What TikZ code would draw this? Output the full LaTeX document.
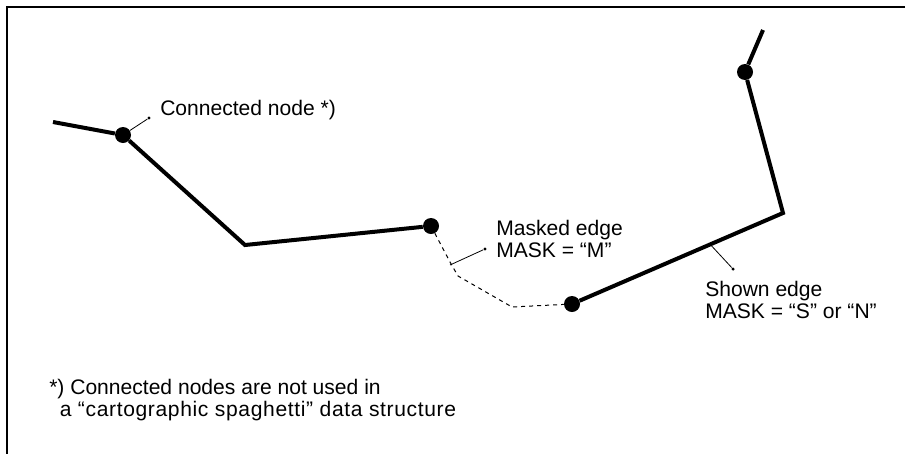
\documentclass[tikz,border=0pt]{standalone}
\usepackage{fontspec}
\setmainfont{Liberation Sans}
\usetikzlibrary{calc}

\begin{document}
\begin{tikzpicture}[x=0.75pt, y=-0.75pt,
    every node/.style={font=\fontsize{15.8}{16.5}\selectfont},
    vertex/.style={circle, fill=black, inner sep=0pt, minimum size=12pt},
    pin/.style={circle, fill=black, inner sep=0pt, minimum size=2.6pt},
    label/.style={anchor=base west, inner sep=0pt, align=left},
    edge/.style={line width=3pt, line join=miter},
    leader/.style={line width=0.6pt},
    masked/.style={line width=0.75pt, dash pattern=on 3pt off 3pt}]

\useasboundingbox (0,0) rectangle (906,454);

% --- frame -----------------------------------------------------------------
\draw[line width=1.5pt] (905,7) -| (7,454);

% --- nodes -----------------------------------------------------------------
\node[vertex] (na) at (123,135) {};
\node[vertex] (nb) at (431,226) {};
\node[vertex] (nc) at (572,304) {};
\node[vertex] (nd) at (745,72) {};

\coordinate (west)   at (53,122);
\coordinate (bend)   at (245,245);
\coordinate (corner) at (783,213);
\coordinate (north)  at (763,30);

% --- edges -----------------------------------------------------------------
\draw[edge] (west) -- (na) -- (bend) -- (nb);
\draw[edge] (nc) -- (corner) -- (nd) -- (north);
\draw[masked] (nb) -- (450,262) coordinate (mk) -- (458,276) -- (512,307) -- (nc);

% --- labels ----------------------------------------------------------------
\node[pin] (pa) at (149,118) {};
\draw[leader] (na) -- (pa);
\node[label] (lconn) at (160,115) {Connected node *)};

\node[pin] (pb) at (485,249) {};
\draw[leader] ($(mk)+(0,3)$) -- (pb);
\node[label] (lmask) at (496,257) {Masked edge\\MASK = ``M''};

\coordinate (se) at ($(nc)!0.655!(corner)$);
\node[pin] (pc) at (733,269) {};
\draw[leader] (se) -- (pc);
\node[label] (lshow) at (705,318) {Shown edge\\MASK = ``S'' or ``N''};

% --- footnote --------------------------------------------------------------
\node[label] (note) at (49,416)
  {*) Connected nodes are not used in\\
   \hspace*{0.5em}{\addfontfeature{LetterSpace=3}a ``cartographic spaghetti'' data structure}};

\end{tikzpicture}
\end{document}
